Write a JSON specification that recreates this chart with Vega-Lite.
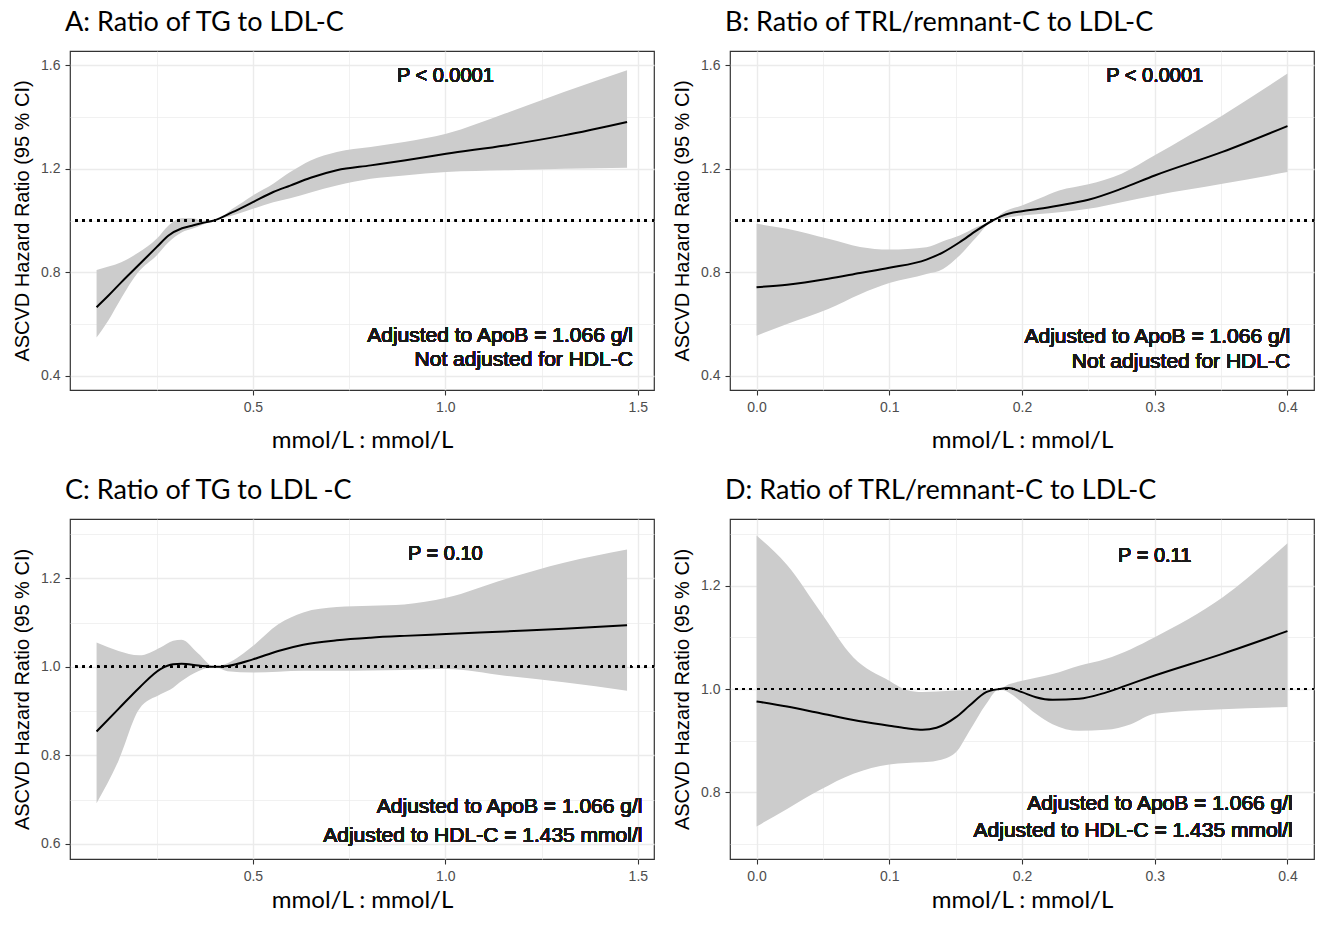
{
  "$schema": "https://vega.github.io/schema/vega-lite/v6.json",
  "padding": {"left": 11, "top": 8, "right": 0, "bottom": 0},
  "background": "white",
  "spacing": 23,
  "config": {
    "font": "Liberation Sans",
    "view": {"stroke": "#333333", "strokeWidth": 1.2},
    "title": {"anchor": "start", "frame": "group", "font": "Lato", "fontSize": 27, "fontWeight": "normal", "color": "#000000", "offset": 14, "dx": -5},
    "axis": {"domain": false, "tickColor": "#333333", "tickSize": 5, "tickWidth": 1.1, "labelColor": "#4d4d4d", "labelFont": "Liberation Sans", "labelFontSize": 14, "labelPadding": 5, "gridColor": "#ebebeb", "titleFontWeight": "normal", "titleColor": "#000000"},
    "axisX": {"titleFont": "Lato", "titleFontSize": 24, "titlePadding": 14},
    "axisY": {"titleFont": "Liberation Sans", "titleFontSize": 20, "titlePadding": 8},
    "text": {"font": "Liberation Sans", "fill": "#1a1a1a", "strokeWidth": 0, "fontWeight": "normal"}
  },
  "datasets": {
    "A": [
      {"x": 0.094, "hr": 0.665, "lo": 0.548, "hi": 0.809},
      {"x": 0.125, "hr": 0.710, "lo": 0.615, "hi": 0.822},
      {"x": 0.158, "hr": 0.761, "lo": 0.700, "hi": 0.839},
      {"x": 0.202, "hr": 0.826, "lo": 0.800, "hi": 0.875},
      {"x": 0.250, "hr": 0.897, "lo": 0.865, "hi": 0.929},
      {"x": 0.281, "hr": 0.942, "lo": 0.916, "hi": 0.981},
      {"x": 0.316, "hr": 0.970, "lo": 0.955, "hi": 1.009},
      {"x": 0.342, "hr": 0.980, "lo": 0.968, "hi": 1.009},
      {"x": 0.368, "hr": 0.990, "lo": 0.983, "hi": 1.000},
      {"x": 0.399, "hr": 1.000, "lo": 1.000, "hi": 1.000},
      {"x": 0.447, "hr": 1.032, "lo": 1.019, "hi": 1.045},
      {"x": 0.500, "hr": 1.071, "lo": 1.045, "hi": 1.097},
      {"x": 0.553, "hr": 1.110, "lo": 1.071, "hi": 1.142},
      {"x": 0.597, "hr": 1.135, "lo": 1.086, "hi": 1.187},
      {"x": 0.650, "hr": 1.165, "lo": 1.108, "hi": 1.232},
      {"x": 0.718, "hr": 1.194, "lo": 1.135, "hi": 1.265},
      {"x": 0.806, "hr": 1.213, "lo": 1.161, "hi": 1.284},
      {"x": 0.893, "hr": 1.232, "lo": 1.174, "hi": 1.303},
      {"x": 1.002, "hr": 1.258, "lo": 1.187, "hi": 1.335},
      {"x": 1.155, "hr": 1.290, "lo": 1.194, "hi": 1.413},
      {"x": 1.308, "hr": 1.329, "lo": 1.200, "hi": 1.497},
      {"x": 1.472, "hr": 1.381, "lo": 1.204, "hi": 1.581}
    ],
    "B": [
      {"x": 0.000, "hr": 0.742, "lo": 0.555, "hi": 0.987},
      {"x": 0.023, "hr": 0.752, "lo": 0.600, "hi": 0.968},
      {"x": 0.054, "hr": 0.775, "lo": 0.658, "hi": 0.929},
      {"x": 0.078, "hr": 0.797, "lo": 0.715, "hi": 0.898},
      {"x": 0.100, "hr": 0.817, "lo": 0.758, "hi": 0.888},
      {"x": 0.128, "hr": 0.849, "lo": 0.793, "hi": 0.897},
      {"x": 0.1405, "hr": 0.877, "lo": 0.813, "hi": 0.920},
      {"x": 0.153, "hr": 0.916, "lo": 0.865, "hi": 0.942},
      {"x": 0.1656, "hr": 0.961, "lo": 0.935, "hi": 0.974},
      {"x": 0.178, "hr": 1.000, "lo": 1.000, "hi": 1.000},
      {"x": 0.1855, "hr": 1.019, "lo": 1.008, "hi": 1.030},
      {"x": 0.200, "hr": 1.036, "lo": 1.019, "hi": 1.058},
      {"x": 0.213, "hr": 1.045, "lo": 1.025, "hi": 1.085},
      {"x": 0.228, "hr": 1.058, "lo": 1.032, "hi": 1.116},
      {"x": 0.250, "hr": 1.080, "lo": 1.045, "hi": 1.140},
      {"x": 0.275, "hr": 1.123, "lo": 1.071, "hi": 1.181},
      {"x": 0.300, "hr": 1.174, "lo": 1.097, "hi": 1.252},
      {"x": 0.351, "hr": 1.265, "lo": 1.142, "hi": 1.406},
      {"x": 0.400, "hr": 1.365, "lo": 1.187, "hi": 1.568}
    ],
    "C": [
      {"x": 0.094, "hr": 0.854, "lo": 0.692, "hi": 1.055},
      {"x": 0.151, "hr": 0.905, "lo": 0.788, "hi": 1.036},
      {"x": 0.205, "hr": 0.953, "lo": 0.905, "hi": 1.026},
      {"x": 0.260, "hr": 0.995, "lo": 0.938, "hi": 1.044},
      {"x": 0.293, "hr": 1.006, "lo": 0.953, "hi": 1.059},
      {"x": 0.315, "hr": 1.007, "lo": 0.968, "hi": 1.061},
      {"x": 0.358, "hr": 1.003, "lo": 0.990, "hi": 1.030},
      {"x": 0.400, "hr": 1.000, "lo": 1.000, "hi": 1.000},
      {"x": 0.434, "hr": 1.002, "lo": 0.990, "hi": 1.008},
      {"x": 0.500, "hr": 1.017, "lo": 0.987, "hi": 1.047},
      {"x": 0.566, "hr": 1.036, "lo": 0.989, "hi": 1.096},
      {"x": 0.631, "hr": 1.050, "lo": 0.991, "hi": 1.123},
      {"x": 0.718, "hr": 1.060, "lo": 0.991, "hi": 1.135},
      {"x": 0.806, "hr": 1.066, "lo": 0.992, "hi": 1.138},
      {"x": 0.893, "hr": 1.070, "lo": 0.993, "hi": 1.141},
      {"x": 1.002, "hr": 1.074, "lo": 0.995, "hi": 1.156},
      {"x": 1.155, "hr": 1.080, "lo": 0.980, "hi": 1.198},
      {"x": 1.308, "hr": 1.086, "lo": 0.965, "hi": 1.235},
      {"x": 1.472, "hr": 1.094, "lo": 0.946, "hi": 1.265}
    ],
    "D": [
      {"x": 0.000, "hr": 0.976, "lo": 0.734, "hi": 1.297},
      {"x": 0.023, "hr": 0.966, "lo": 0.768, "hi": 1.240},
      {"x": 0.048, "hr": 0.953, "lo": 0.805, "hi": 1.150},
      {"x": 0.073, "hr": 0.940, "lo": 0.836, "hi": 1.061},
      {"x": 0.100, "hr": 0.929, "lo": 0.854, "hi": 1.016},
      {"x": 0.113, "hr": 0.924, "lo": 0.857, "hi": 0.998},
      {"x": 0.125, "hr": 0.921, "lo": 0.858, "hi": 0.994},
      {"x": 0.1356, "hr": 0.925, "lo": 0.861, "hi": 0.995},
      {"x": 0.150, "hr": 0.945, "lo": 0.877, "hi": 0.997},
      {"x": 0.1605, "hr": 0.968, "lo": 0.919, "hi": 0.998},
      {"x": 0.173, "hr": 0.994, "lo": 0.971, "hi": 0.999},
      {"x": 0.183, "hr": 1.000, "lo": 1.000, "hi": 1.000},
      {"x": 0.190, "hr": 1.002, "lo": 0.993, "hi": 1.009},
      {"x": 0.200, "hr": 0.994, "lo": 0.974, "hi": 1.016},
      {"x": 0.2105, "hr": 0.984, "lo": 0.952, "hi": 1.022},
      {"x": 0.223, "hr": 0.979, "lo": 0.932, "hi": 1.029},
      {"x": 0.243, "hr": 0.981, "lo": 0.919, "hi": 1.045},
      {"x": 0.263, "hr": 0.993, "lo": 0.921, "hi": 1.058},
      {"x": 0.282, "hr": 1.010, "lo": 0.932, "hi": 1.077},
      {"x": 0.300, "hr": 1.026, "lo": 0.952, "hi": 1.100},
      {"x": 0.351, "hr": 1.068, "lo": 0.961, "hi": 1.177},
      {"x": 0.400, "hr": 1.112, "lo": 0.965, "hi": 1.282}
    ]
  },
  "vconcat": [
    {
      "spacing": 15,
      "hconcat": [
        {
          "width": 584, "height": 339,
          "title": "A: Ratio of TG to LDL-C",
          "data": {"name": "A"},
          "layer": [
            {
              "mark": {"type": "area", "color": "#cccccc", "interpolate": "monotone"},
              "encoding": {
                "x": {"field": "x", "type": "quantitative", "title": "mmol/L : mmol/L",
                  "scale": {"domain": [0.025, 1.542], "nice": false, "zero": false},
                  "axis": {"values": [0.25, 0.5, 0.75, 1.0, 1.25, 1.5],
                    "labelExpr": "round(datum.value*100) % 50 == 0 ? format(datum.value, '.1f') : ''",
                    "tickOpacity": {"condition": {"test": "round(datum.value*100) % 50 == 0", "value": 1}, "value": 0},
                    "gridWidth": {"condition": {"test": "round(datum.value*100) % 50 == 0", "value": 1.4}, "value": 0.7}}},
                "y": {"field": "lo", "type": "quantitative", "title": "ASCVD Hazard Ratio (95 % CI)",
                  "scale": {"domain": [0.345, 1.655], "nice": false, "zero": false},
                  "axis": {"values": [0.4, 0.6, 0.8, 1.0, 1.2, 1.4, 1.6],
                    "labelExpr": "round(datum.value*10) % 4 == 0 ? format(datum.value, '.1f') : ''",
                    "tickOpacity": {"condition": {"test": "round(datum.value*10) % 4 == 0", "value": 1}, "value": 0},
                    "gridWidth": {"condition": {"test": "round(datum.value*10) % 4 == 0", "value": 1.4}, "value": 0.7}}},
                "y2": {"field": "hi"}
              }
            },
            {
              "mark": {"type": "line", "color": "#000000", "strokeWidth": 2, "interpolate": "monotone"},
              "encoding": {
                "x": {"field": "x", "type": "quantitative", "title": "mmol/L : mmol/L"},
                "y": {"field": "hr", "type": "quantitative", "title": "ASCVD Hazard Ratio (95 % CI)"}
              }
            },
            {
              "mark": {"type": "rule", "color": "#000000", "strokeWidth": 2, "strokeDash": [2, 5.3]},
              "encoding": {"y": {"datum": 1}}
            },
            {
              "mark": {"type": "text", "fontSize": 20, "align": "center", "baseline": "middle"},
              "encoding": {"x": {"datum": 1.0}, "y": {"datum": 1.559}, "text": {"value": "P < 0.0001"}}
            },
            {
              "mark": {"type": "text", "fontSize": 21, "align": "right", "baseline": "middle"},
              "encoding": {"x": {"datum": 1.487}, "y": {"datum": 0.554}, "text": {"value": "Adjusted to ApoB = 1.066 g/l"}}
            },
            {
              "mark": {"type": "text", "fontSize": 21, "align": "right", "baseline": "middle"},
              "encoding": {"x": {"datum": 1.487}, "y": {"datum": 0.459}, "text": {"value": "Not adjusted for HDL-C"}}
            }
          ]
        },
        {
          "width": 584, "height": 339,
          "title": "B: Ratio of TRL/remnant-C to LDL-C",
          "data": {"name": "B"},
          "layer": [
            {
              "mark": {"type": "area", "color": "#cccccc", "interpolate": "monotone"},
              "encoding": {
                "x": {"field": "x", "type": "quantitative", "title": "mmol/L : mmol/L",
                  "scale": {"domain": [-0.02, 0.42], "nice": false, "zero": false},
                  "axis": {"values": [0, 0.05, 0.1, 0.15, 0.2, 0.25, 0.3, 0.35, 0.4],
                    "labelExpr": "round(datum.value*100) % 10 == 0 ? format(datum.value, '.1f') : ''",
                    "tickOpacity": {"condition": {"test": "round(datum.value*100) % 10 == 0", "value": 1}, "value": 0},
                    "gridWidth": {"condition": {"test": "round(datum.value*100) % 10 == 0", "value": 1.4}, "value": 0.7}}},
                "y": {"field": "lo", "type": "quantitative", "title": "ASCVD Hazard Ratio (95 % CI)",
                  "scale": {"domain": [0.345, 1.655], "nice": false, "zero": false},
                  "axis": {"values": [0.4, 0.6, 0.8, 1.0, 1.2, 1.4, 1.6],
                    "labelExpr": "round(datum.value*10) % 4 == 0 ? format(datum.value, '.1f') : ''",
                    "tickOpacity": {"condition": {"test": "round(datum.value*10) % 4 == 0", "value": 1}, "value": 0},
                    "gridWidth": {"condition": {"test": "round(datum.value*10) % 4 == 0", "value": 1.4}, "value": 0.7}}},
                "y2": {"field": "hi"}
              }
            },
            {
              "mark": {"type": "line", "color": "#000000", "strokeWidth": 2, "interpolate": "monotone"},
              "encoding": {
                "x": {"field": "x", "type": "quantitative", "title": "mmol/L : mmol/L"},
                "y": {"field": "hr", "type": "quantitative", "title": "ASCVD Hazard Ratio (95 % CI)"}
              }
            },
            {
              "mark": {"type": "rule", "color": "#000000", "strokeWidth": 2, "strokeDash": [2, 5.3]},
              "encoding": {"y": {"datum": 1}}
            },
            {
              "mark": {"type": "text", "fontSize": 20, "align": "center", "baseline": "middle"},
              "encoding": {"x": {"datum": 0.3}, "y": {"datum": 1.559}, "text": {"value": "P < 0.0001"}}
            },
            {
              "mark": {"type": "text", "fontSize": 21, "align": "right", "baseline": "middle"},
              "encoding": {"x": {"datum": 0.402}, "y": {"datum": 0.551}, "text": {"value": "Adjusted to ApoB = 1.066 g/l"}}
            },
            {
              "mark": {"type": "text", "fontSize": 21, "align": "right", "baseline": "middle"},
              "encoding": {"x": {"datum": 0.402}, "y": {"datum": 0.452}, "text": {"value": "Not adjusted for HDL-C"}}
            }
          ]
        }
      ]
    },
    {
      "spacing": 15,
      "hconcat": [
        {
          "width": 584, "height": 340,
          "title": "C: Ratio of TG to LDL -C",
          "data": {"name": "C"},
          "layer": [
            {
              "mark": {"type": "area", "color": "#cccccc", "interpolate": "monotone"},
              "encoding": {
                "x": {"field": "x", "type": "quantitative", "title": "mmol/L : mmol/L",
                  "scale": {"domain": [0.025, 1.542], "nice": false, "zero": false},
                  "axis": {"values": [0.25, 0.5, 0.75, 1.0, 1.25, 1.5], "titlePadding": 5,
                    "labelExpr": "round(datum.value*100) % 50 == 0 ? format(datum.value, '.1f') : ''",
                    "tickOpacity": {"condition": {"test": "round(datum.value*100) % 50 == 0", "value": 1}, "value": 0},
                    "gridWidth": {"condition": {"test": "round(datum.value*100) % 50 == 0", "value": 1.4}, "value": 0.7}}},
                "y": {"field": "lo", "type": "quantitative", "title": "ASCVD Hazard Ratio (95 % CI)",
                  "scale": {"domain": [0.566, 1.334], "nice": false, "zero": false},
                  "axis": {"values": [0.6, 0.7, 0.8, 0.9, 1.0, 1.1, 1.2, 1.3],
                    "labelExpr": "round(datum.value*10) % 2 == 0 ? format(datum.value, '.1f') : ''",
                    "tickOpacity": {"condition": {"test": "round(datum.value*10) % 2 == 0", "value": 1}, "value": 0},
                    "gridWidth": {"condition": {"test": "round(datum.value*10) % 2 == 0", "value": 1.4}, "value": 0.7}}},
                "y2": {"field": "hi"}
              }
            },
            {
              "mark": {"type": "line", "color": "#000000", "strokeWidth": 2, "interpolate": "monotone"},
              "encoding": {
                "x": {"field": "x", "type": "quantitative", "title": "mmol/L : mmol/L"},
                "y": {"field": "hr", "type": "quantitative", "title": "ASCVD Hazard Ratio (95 % CI)"}
              }
            },
            {
              "mark": {"type": "rule", "color": "#000000", "strokeWidth": 2, "strokeDash": [2, 5.3]},
              "encoding": {"y": {"datum": 1}}
            },
            {
              "mark": {"type": "text", "fontSize": 20, "align": "center", "baseline": "middle"},
              "encoding": {"x": {"datum": 1.0}, "y": {"datum": 1.254}, "text": {"value": "P = 0.10"}}
            },
            {
              "mark": {"type": "text", "fontSize": 21, "align": "right", "baseline": "middle"},
              "encoding": {"x": {"datum": 1.512}, "y": {"datum": 0.683}, "text": {"value": "Adjusted to ApoB = 1.066 g/l"}}
            },
            {
              "mark": {"type": "text", "fontSize": 21, "align": "right", "baseline": "middle"},
              "encoding": {"x": {"datum": 1.512}, "y": {"datum": 0.619}, "text": {"value": "Adjusted to HDL-C = 1.435 mmol/l"}}
            }
          ]
        },
        {
          "width": 584, "height": 340,
          "title": "D: Ratio of TRL/remnant-C to LDL-C",
          "data": {"name": "D"},
          "layer": [
            {
              "mark": {"type": "area", "color": "#cccccc", "interpolate": "monotone"},
              "encoding": {
                "x": {"field": "x", "type": "quantitative", "title": "mmol/L : mmol/L",
                  "scale": {"domain": [-0.02, 0.42], "nice": false, "zero": false},
                  "axis": {"values": [0, 0.05, 0.1, 0.15, 0.2, 0.25, 0.3, 0.35, 0.4], "titlePadding": 5,
                    "labelExpr": "round(datum.value*100) % 10 == 0 ? format(datum.value, '.1f') : ''",
                    "tickOpacity": {"condition": {"test": "round(datum.value*100) % 10 == 0", "value": 1}, "value": 0},
                    "gridWidth": {"condition": {"test": "round(datum.value*100) % 10 == 0", "value": 1.4}, "value": 0.7}}},
                "y": {"field": "lo", "type": "quantitative", "title": "ASCVD Hazard Ratio (95 % CI)",
                  "scale": {"domain": [0.671, 1.329], "nice": false, "zero": false},
                  "axis": {"values": [0.7, 0.8, 0.9, 1.0, 1.1, 1.2, 1.3],
                    "labelExpr": "round(datum.value*10) % 2 == 0 ? format(datum.value, '.1f') : ''",
                    "tickOpacity": {"condition": {"test": "round(datum.value*10) % 2 == 0", "value": 1}, "value": 0},
                    "gridWidth": {"condition": {"test": "round(datum.value*10) % 2 == 0", "value": 1.4}, "value": 0.7}}},
                "y2": {"field": "hi"}
              }
            },
            {
              "mark": {"type": "line", "color": "#000000", "strokeWidth": 2, "interpolate": "monotone"},
              "encoding": {
                "x": {"field": "x", "type": "quantitative", "title": "mmol/L : mmol/L"},
                "y": {"field": "hr", "type": "quantitative", "title": "ASCVD Hazard Ratio (95 % CI)"}
              }
            },
            {
              "mark": {"type": "rule", "color": "#000000", "strokeWidth": 2, "strokeDash": [2, 5.3]},
              "encoding": {"y": {"datum": 1}}
            },
            {
              "mark": {"type": "text", "fontSize": 20, "align": "center", "baseline": "middle"},
              "encoding": {"x": {"datum": 0.3}, "y": {"datum": 1.258}, "text": {"value": "P = 0.11"}}
            },
            {
              "mark": {"type": "text", "fontSize": 21, "align": "right", "baseline": "middle"},
              "encoding": {"x": {"datum": 0.404}, "y": {"datum": 0.777}, "text": {"value": "Adjusted to ApoB = 1.066 g/l"}}
            },
            {
              "mark": {"type": "text", "fontSize": 21, "align": "right", "baseline": "middle"},
              "encoding": {"x": {"datum": 0.404}, "y": {"datum": 0.726}, "text": {"value": "Adjusted to HDL-C = 1.435 mmol/l"}}
            }
          ]
        }
      ]
    }
  ]
}
